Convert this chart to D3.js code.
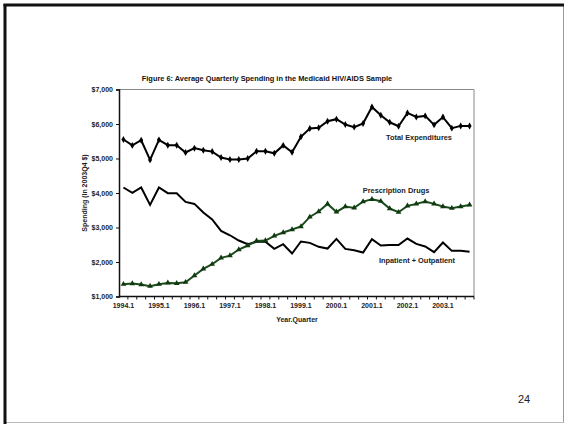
<!DOCTYPE html>
<html>
<head>
<meta charset="utf-8">
<script src="https://cdn.jsdelivr.net/npm/d3@7/dist/d3.min.js"></script>
<style>
  html, body { margin: 0; padding: 0; background: #fff; }
  svg { display: block; font-family: Arial, "Liberation Sans", sans-serif; }
</style>
</head>
<body>
<svg id="chart" width="565" height="424"></svg>
<script>
// Quarters 1994.1 .. 2003.4
const years = d3.range(1994, 2004);
const quarters = years.flatMap(y => [1, 2, 3, 4].map(q => `${y}.${q}`));
const tickLabels = years.map(y => `${y}.1`);

// Average quarterly spending (2003Q4 dollars)
const totalExpenditures = [
  5550, 5380, 5530, 4960, 5540, 5385, 5385, 5175, 5300, 5240, 5200, 5030,
  4970, 4970, 5000, 5210, 5210, 5150, 5380, 5180, 5630, 5870, 5890, 6080,
  6140, 5985, 5910, 6015, 6495, 6255, 6050, 5935, 6320, 6205, 6235, 5975,
  6200, 5880, 5945, 5945
];
const prescriptionDrugs = [
  1357, 1377, 1348, 1300, 1357, 1394, 1384, 1415, 1607, 1800, 1936, 2120,
  2185, 2362, 2478, 2612, 2622, 2757, 2855, 2942, 3029, 3307, 3462, 3684,
  3452, 3607, 3568, 3752, 3815, 3762, 3550, 3443, 3626, 3684, 3752, 3684,
  3607, 3559, 3607, 3655
];
const inpatientOutpatient = [
  4160, 4003, 4160, 3655, 4160, 3995, 3995, 3742, 3684, 3435, 3232, 2901,
  2775, 2623, 2516, 2585, 2585, 2380, 2516, 2246, 2594, 2555, 2440, 2390,
  2670, 2380, 2342, 2275, 2660, 2478, 2490, 2490, 2680, 2526, 2450, 2284,
  2565, 2323, 2323, 2295
];
const yTicks = [1000, 2000, 3000, 4000, 5000, 6000, 7000];

const svg = d3.select("#chart");

// Slide frame
svg.append("rect").attr("x", 0).attr("y", 0).attr("width", 565).attr("height", 424).attr("fill", "#fff");
svg.append("line").attr("x1", 563.5).attr("x2", 563.5).attr("y1", 5).attr("y2", 423)
  .attr("stroke", "#999").attr("stroke-width", 1);
svg.append("line").attr("x1", 5).attr("x2", 564).attr("y1", 422.5).attr("y2", 422.5)
  .attr("stroke", "#bbb").attr("stroke-width", 1);
svg.append("line").attr("x1", 5).attr("x2", 5).attr("y1", 4).attr("y2", 424)
  .attr("stroke", "#111").attr("stroke-width", 3);
svg.append("line").attr("x1", 3.5).attr("x2", 564).attr("y1", 5).attr("y2", 5)
  .attr("stroke", "#111").attr("stroke-width", 3);

const plot = { left: 119, right: 474, top: 89.5, bottom: 296.5 };

const x = d3.scaleBand().domain(quarters).range([plot.left, plot.right]).padding(0);
const y = d3.scaleLinear().domain([1000, 7000]).range([plot.bottom, plot.top]);
const cx = q => x(q) + x.bandwidth() / 2;

// Title
svg.append("text").attr("x", 267).attr("y", 80.5).attr("text-anchor", "middle")
  .attr("font-size", 7.4).attr("font-weight", "bold").attr("fill", "#111")
  .text("Figure 6: Average Quarterly Spending in the Medicaid HIV/AIDS Sample");

// Plot frame (top & right)
svg.append("path")
  .attr("d", `M${plot.left},${plot.top}H${plot.right}V${plot.bottom}`)
  .attr("fill", "none").attr("stroke", "#888").attr("stroke-width", 1);

// Y axis
const yAxis = svg.append("g").attr("transform", `translate(${plot.left},0)`)
  .call(d3.axisLeft(y).tickValues(yTicks).tickSize(3).tickPadding(3)
    .tickFormat(d => "$" + d3.format(",")(d)));
yAxis.selectAll("text").attr("font-size", 7).attr("font-weight", "bold").attr("fill", "#222")
  .attr("font-family", "Arial, 'Liberation Sans', sans-serif");
yAxis.select(".domain").attr("stroke", "#111").attr("stroke-width", 1.5);
yAxis.selectAll(".tick line").attr("stroke", "#111");

// X axis: tick marks at quarter boundaries, labels on first quarters
const xg = svg.append("g").attr("transform", `translate(0,${plot.bottom})`);
xg.append("line").attr("x1", plot.left).attr("x2", plot.right).attr("y1", 0).attr("y2", 0)
  .attr("stroke", "#111").attr("stroke-width", 1.5);
xg.selectAll("line.tk").data(quarters).join("line").attr("class", "tk")
  .attr("x1", d => x(d) + x.bandwidth()).attr("x2", d => x(d) + x.bandwidth())
  .attr("y1", 0).attr("y2", 3).attr("stroke", "#111");
xg.selectAll("text").data(tickLabels).join("text")
  .attr("x", d => cx(d)).attr("y", 11.5).attr("text-anchor", "middle")
  .attr("font-size", 7).attr("font-weight", "bold").attr("fill", "#222")
  .text(d => d);

// Axis titles
svg.append("text").attr("x", 297).attr("y", 321.5).attr("text-anchor", "middle")
  .attr("font-size", 7).attr("font-weight", "bold").attr("fill", "#222").text("Year.Quarter");
svg.append("text").attr("transform", "translate(86.5,193) rotate(-90)").attr("text-anchor", "middle")
  .attr("font-size", 7).attr("font-weight", "bold").attr("fill", "#222").text("Spending (in 2003Q4 $)");

const line = d3.line().x((d, i) => cx(quarters[i])).y(d => y(d));

// Inpatient + Outpatient
svg.append("path").datum(inpatientOutpatient).attr("d", line)
  .attr("fill", "none").attr("stroke", "#000").attr("stroke-width", 2);

// Total Expenditures with diamond markers
svg.append("path").datum(totalExpenditures).attr("d", line)
  .attr("fill", "none").attr("stroke", "#000").attr("stroke-width", 2);
svg.append("g").selectAll("path").data(totalExpenditures).join("path")
  .attr("d", d3.symbol(d3.symbolDiamond, 14)())
  .attr("transform", (d, i) => `translate(${cx(quarters[i])},${y(d)})`)
  .attr("fill", "#000");

// Prescription Drugs with triangle markers
svg.append("path").datum(prescriptionDrugs).attr("d", line)
  .attr("fill", "none").attr("stroke", "#1c4a1c").attr("stroke-width", 2);
svg.append("g").selectAll("path").data(prescriptionDrugs).join("path")
  .attr("d", d3.symbol(d3.symbolTriangle, 14)())
  .attr("transform", (d, i) => `translate(${cx(quarters[i])},${y(d)})`)
  .attr("fill", "#0f3a0f");

// Series labels
const labels = [
  { text: "Total Expenditures", x: 419, y: 139.5 },
  { text: "Prescription Drugs", x: 396, y: 192.5 },
  { text: "Inpatient + Outpatient", x: 417, y: 263 }
];
svg.append("g").selectAll("text").data(labels).join("text")
  .attr("x", d => d.x).attr("y", d => d.y).attr("text-anchor", "middle")
  .attr("font-size", 7.4).attr("font-weight", "bold").attr("fill", "#222")
  .text(d => d.text);

// Page number
svg.append("text").attr("x", 524).attr("y", 402.5).attr("text-anchor", "middle")
  .attr("font-size", 11).attr("fill", "#222").text("24");
</script>
</body>
</html>
